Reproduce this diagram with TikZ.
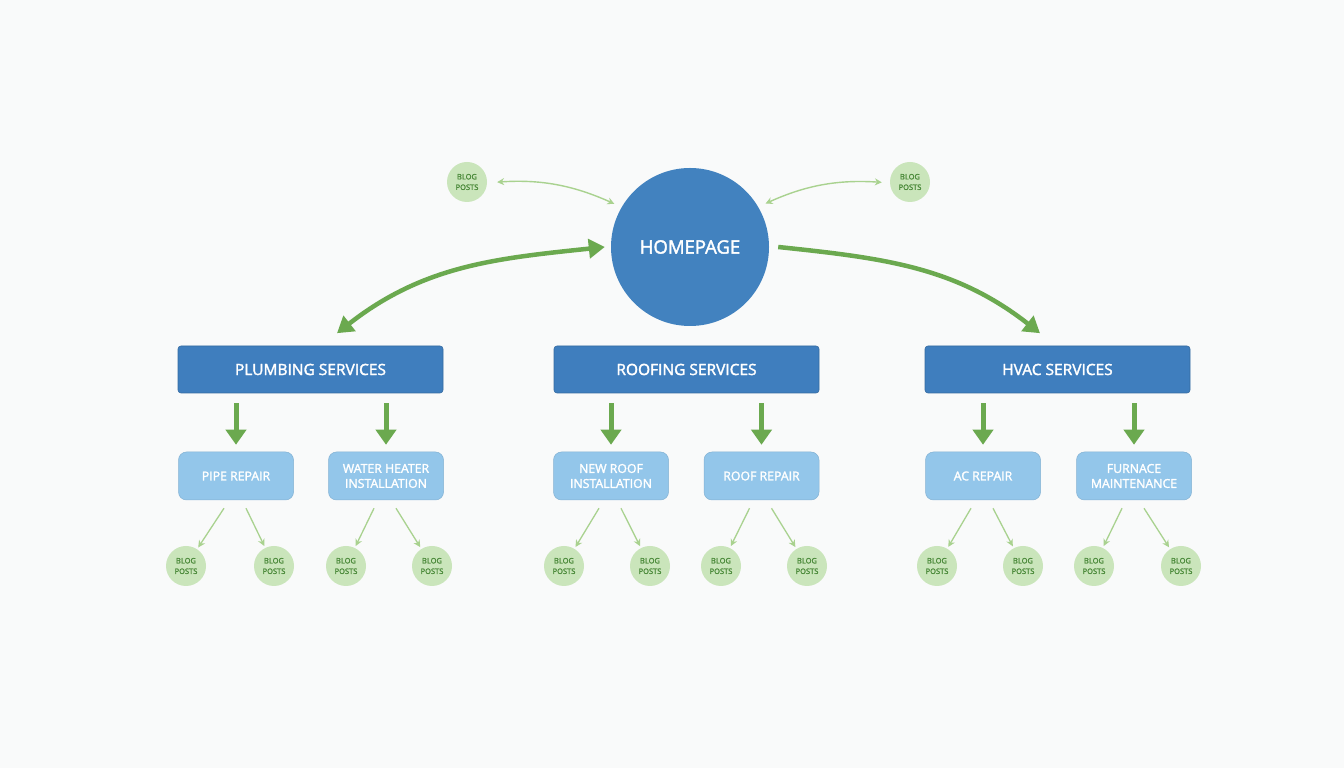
\documentclass[tikz,border=0pt]{standalone}
\usepackage{fontspec}
\setmainfont{Open Sans}[FakeBold=2]
\usetikzlibrary{arrows.meta}
\definecolor{bgcol}{HTML}{F9FAFA}
\definecolor{hpblue}{HTML}{4282BF}
\definecolor{srvblue}{HTML}{3F7EBE}
\definecolor{subblue}{HTML}{93C6EA}
\definecolor{blogfill}{HTML}{CAE5BB}
\definecolor{blogtext}{HTML}{4B8A3A}
\definecolor{arrgreen}{HTML}{6BA94F}
\definecolor{lightgreen}{HTML}{A9D28F}
\tikzset{
  hp/.style={circle,fill=hpblue,minimum size=158pt,inner sep=0pt,text=white,font=\fontsize{18.5}{21}\selectfont},
  srv/.style={rectangle,rounded corners=3pt,fill=srvblue,draw=srvblue!85!black,line width=0.6pt,minimum width=265pt,minimum height=47pt,text=white,font=\fontsize{15.5}{17}\selectfont},
  sub/.style={rectangle,rounded corners=8pt,fill=subblue,draw=subblue!90!black,line width=0.5pt,minimum width=115pt,minimum height=48pt,inner sep=2pt,text=white,align=center,font=\fontsize{12.3}{15}\selectfont},
  blog/.style={circle,fill=blogfill,minimum size=40pt,inner sep=0pt,text=blogtext,align=center,font=\fontsize{7.5}{10.5}\selectfont},
  big/.style={line width=4.5pt,draw=arrgreen,-{Triangle[length=16pt,width=19pt]}},
  dn/.style={line width=5pt,draw=arrgreen,-{Triangle[length=15pt,width=20pt]}},
  thn/.style={line width=1.4pt,draw=lightgreen,{Stealth[length=7pt,width=7pt]}-{Stealth[length=7pt,width=7pt]}},
  sm/.style={line width=1.3pt,draw=lightgreen,-{Stealth[length=7pt,width=7pt]},shorten >=2pt}
}

\begin{document}
\begin{tikzpicture}[x=1pt,y=1pt]
\useasboundingbox[fill=bgcol] (0,0) rectangle (1344,768);
\node[hp] (home) at (690,521) {HOMEPAGE};
\node[blog] (tl) at (467,586) {BLOG\\POSTS};
\node[blog] (tr) at (910,586) {BLOG\\POSTS};
\draw[thn,shorten <=10pt,shorten >=8pt] (tl) to[bend left=14] (home);
\draw[thn,shorten <=8pt,shorten >=8pt] (home) to[bend left=14] (tr);

\node[srv] (plumb) at (310.5,398.5) {PLUMBING SERVICES};
\node[srv] (roof) at (686.5,398.5) {ROOFING SERVICES};
\node[srv] (hvac) at (1057.5,398.5) {HVAC SERVICES};
\draw[big,{Triangle[length=16pt,width=19pt]}-{Triangle[length=16pt,width=19pt]}]
  ([xshift=-6pt]home.west) to[out=186,in=38] ([xshift=26.5pt,yshift=12.5pt]plumb.north);
\draw[big] ([xshift=9pt]home.east) to[out=-6,in=142] ([xshift=-17.5pt,yshift=12.5pt]hvac.north);

\node[sub] (pipe) at (236,292) {PIPE REPAIR};
\node[sub] (heater) at (386,292) {WATER HEATER\\INSTALLATION};
\node[sub] (newroof) at (611,292) {NEW ROOF\\INSTALLATION};
\node[sub] (roofrep) at (761.5,292) {ROOF REPAIR};
\node[sub] (ac) at (983,292) {AC REPAIR};
\node[sub] (furn) at (1134,292) {FURNACE\\MAINTENANCE};

\foreach \p/\c in {plumb/pipe,plumb/heater,roof/newroof,roof/roofrep,hvac/ac,hvac/furn}
  \draw[dn,shorten <=10pt,shorten >=7pt] (\p.south -| \c.north) -- (\c.north);

\node[blog] (b1) at (186,202) {BLOG\\POSTS};
\node[blog] (b2) at (274,202) {BLOG\\POSTS};
\node[blog] (b3) at (346,202) {BLOG\\POSTS};
\node[blog] (b4) at (432,202) {BLOG\\POSTS};
\node[blog] (b5) at (564,202) {BLOG\\POSTS};
\node[blog] (b6) at (650,202) {BLOG\\POSTS};
\node[blog] (b7) at (721,202) {BLOG\\POSTS};
\node[blog] (b8) at (807,202) {BLOG\\POSTS};
\node[blog] (b9) at (937,202) {BLOG\\POSTS};
\node[blog] (b10) at (1023,202) {BLOG\\POSTS};
\node[blog] (b11) at (1094,202) {BLOG\\POSTS};
\node[blog] (b12) at (1181,202) {BLOG\\POSTS};

\foreach \s/\a/\b in {pipe/b1/b2,heater/b3/b4,newroof/b5/b6,roofrep/b7/b8,ac/b9/b10,furn/b11/b12}{
  \draw[sm] ([xshift=-12pt,yshift=-8pt]\s.south) -- (\a);
  \draw[sm] ([xshift=10pt,yshift=-8pt]\s.south) -- (\b);
}
\end{tikzpicture}
\end{document}
